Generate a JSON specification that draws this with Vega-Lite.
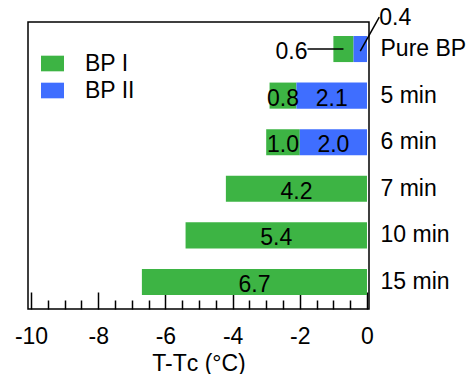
{
  "$schema": "https://vega.github.io/schema/vega-lite/v6.json",
  "width": 341,
  "height": 287,
  "autosize": {"type": "none"},
  "padding": {"left": 28, "top": 22, "right": 103, "bottom": 65},
  "config": {
    "view": {"stroke": "black", "strokeWidth": 1.5},
    "font": "Liberation Sans",
    "text": {"font": "Liberation Sans"}
  },
  "data": {
    "values": [
      {"sample": "Pure BP", "phase": "BP I", "value": -0.6},
      {"sample": "Pure BP", "phase": "BP II", "value": -0.4},
      {"sample": "5 min", "phase": "BP I", "value": -0.8},
      {"sample": "5 min", "phase": "BP II", "value": -2.1},
      {"sample": "6 min", "phase": "BP I", "value": -1.0},
      {"sample": "6 min", "phase": "BP II", "value": -2.0},
      {"sample": "7 min", "phase": "BP I", "value": -4.2},
      {"sample": "10 min", "phase": "BP I", "value": -5.4},
      {"sample": "15 min", "phase": "BP I", "value": -6.7}
    ]
  },
  "transform": [
    {"stack": "value", "groupby": ["sample"], "sort": [{"field": "phase", "order": "descending"}], "as": ["x0", "x1"]},
    {"calculate": "(datum.x0 + datum.x1) / 2", "as": "mid"},
    {"calculate": "format(-datum.value, '.1f')", "as": "lab"}
  ],
  "resolve": {"axis": {"x": "independent"}},
  "encoding": {
    "y": {
      "field": "sample",
      "type": "nominal",
      "sort": ["Pure BP", "5 min", "6 min", "7 min", "10 min", "15 min"],
      "scale": {"paddingInner": 0.44, "paddingOuter": 0.3},
      "axis": {
        "orient": "right",
        "domain": false,
        "ticks": false,
        "grid": false,
        "labelPadding": 11,
        "labelFontSize": 23,
        "labelColor": "black",
        "labelAlign": "left",
        "title": null
      }
    }
  },
  "layer": [
    {
      "mark": {"type": "bar"},
      "encoding": {
        "x": {
          "field": "x0",
          "type": "quantitative",
          "scale": {"domain": [-10.09, 0.06], "nice": false, "zero": false},
          "axis": {
            "orient": "bottom",
            "values": [-10, -8, -6, -4, -2, 0],
            "labelExpr": "'' + datum.value",
            "domain": false,
            "grid": false,
            "tickColor": "black",
            "tickWidth": 1.5,
            "tickSize": -17,
            "labelPadding": 33,
            "labelFontSize": 23,
            "labelColor": "black",
            "title": "T-Tᴄ (°C)",
            "titleFontSize": 23,
            "titleFontWeight": "normal",
            "titleColor": "black",
            "titlePadding": 4
          }
        },
        "x2": {"field": "x1"},
        "color": {
          "field": "phase",
          "type": "nominal",
          "scale": {"domain": ["BP I", "BP II"], "range": ["#3DB444", "#3F6EFF"]},
          "legend": {
            "title": null,
            "orient": "none",
            "legendX": 13,
            "legendY": 30,
            "padding": 0,
            "symbolType": "M-1,-0.68H1V0.68H-1Z",
            "symbolSize": 529,
            "symbolStrokeWidth": 0,
            "symbolOpacity": 1,
            "labelFontSize": 23,
            "labelColor": "black",
            "labelOffset": 21,
            "rowPadding": 3
          }
        }
      }
    },
    {
      "transform": [{"filter": "datum.sample != 'Pure BP'"}],
      "mark": {"type": "text", "fontSize": 23, "color": "black", "dy": 3},
      "encoding": {
        "x": {
          "field": "mid",
          "type": "quantitative",
          "axis": {
            "orient": "bottom",
            "values": [-9.5, -9, -8.5, -7.5, -7, -6.5, -5.5, -5, -4.5, -3.5, -3, -2.5, -1.5, -1, -0.5],
            "labels": false,
            "domain": false,
            "grid": false,
            "tickColor": "black",
            "tickWidth": 1.5,
            "tickSize": -9,
            "title": null
          }
        },
        "text": {"field": "lab"}
      }
    },
    {
      "transform": [{"filter": "datum.sample == 'Pure BP' && datum.phase == 'BP I'"}],
      "mark": {"type": "rule", "color": "black", "strokeWidth": 1.5, "x2Offset": -36},
      "encoding": {
        "x": {"field": "mid", "type": "quantitative", "axis": null},
        "x2": {"field": "mid"}
      }
    },
    {
      "transform": [{"filter": "datum.sample == 'Pure BP' && datum.phase == 'BP I'"}],
      "mark": {"type": "text", "fontSize": 23, "color": "black", "align": "right", "dx": -36, "dy": 3},
      "encoding": {
        "x": {"field": "mid", "type": "quantitative", "axis": null},
        "text": {"field": "lab"}
      }
    },
    {
      "transform": [{"filter": "datum.sample == 'Pure BP' && datum.phase == 'BP II'"}],
      "mark": {"type": "rule", "color": "black", "strokeWidth": 1.5, "yOffset": 2, "y2Offset": -32, "x2Offset": 19},
      "encoding": {
        "x": {"field": "mid", "type": "quantitative", "axis": null},
        "x2": {"field": "mid"},
        "y2": {"datum": "Pure BP"}
      }
    },
    {
      "transform": [{"filter": "datum.sample == 'Pure BP' && datum.phase == 'BP II'"}],
      "mark": {"type": "text", "fontSize": 23, "color": "black", "align": "left", "dx": 19, "dy": -31},
      "encoding": {
        "x": {"field": "mid", "type": "quantitative", "axis": null},
        "text": {"field": "lab"}
      }
    }
  ]
}
